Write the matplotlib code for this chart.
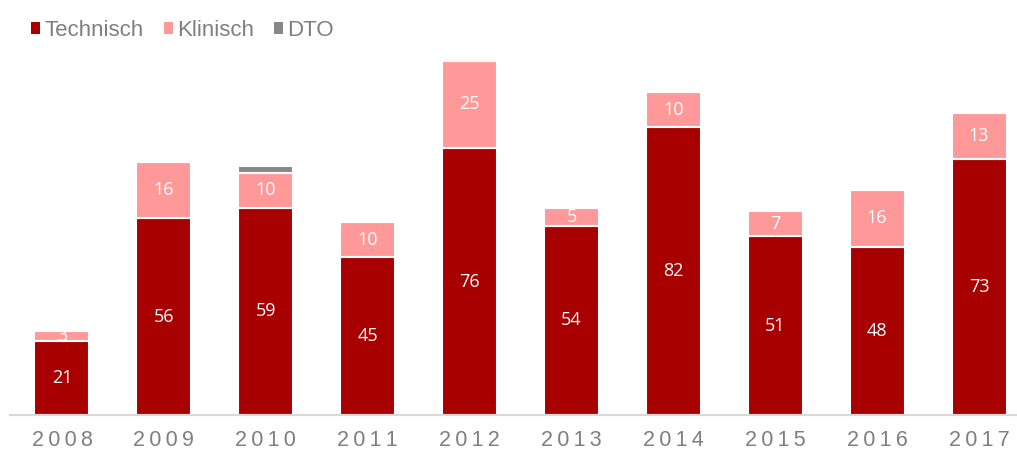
import matplotlib
matplotlib.use('Agg')
import matplotlib.pyplot as plt
import numpy as np

# --- data ---
years = ['2008', '2009', '2010', '2011', '2012', '2013', '2014', '2015', '2016', '2017']
technisch = [21, 56, 59, 45, 76, 54, 82, 51, 48, 73]
klinisch = [3, 16, 10, 10, 25, 5, 10, 7, 16, 13]
dto = [0, 0, 2, 0, 0, 0, 0, 0, 0, 0]

c_tech = '#A80000'
c_klin = '#FF9999'
c_dto = '#878787'

plt.rcParams['font.family'] = ['Liberation Sans', 'DejaVu Sans']

fig = plt.figure(figsize=(10.17, 4.51), dpi=100)
# baseline at y=415 px, top of axes at ~29 px
ax = fig.add_axes([0.0, 36 / 451, 1.0, 386 / 451])

x = np.arange(len(years))
w = 0.54
tech = np.array(technisch)
klin = np.array(klinisch)
dt = np.array(dto)

b1 = ax.bar(x, tech, w, color=c_tech, edgecolor='white', linewidth=1.5, label='Technisch')
b2 = ax.bar(x, klin, w, bottom=tech, color=c_klin, edgecolor='white', linewidth=1.5, label='Klinisch')
b3 = ax.bar(x, dt, w, bottom=tech + klin, color=c_dto, edgecolor='white', linewidth=1.5, label='DTO')

for i in range(len(years)):
    ax.text(x[i], tech[i] / 2, str(tech[i]), ha='center', va='center',
            color='white', fontsize=13, family=['Open Sans', 'DejaVu Sans'])
    ax.text(x[i], tech[i] + klin[i] / 2, str(klin[i]), ha='center', va='center',
            color='white', fontsize=13, family=['Open Sans', 'DejaVu Sans'])

# x=-0.5 sits at 11 px; spacing ~101.9 px per category
x0 = -0.5 - 11 / 101.9
ax.set_xlim(x0, x0 + 1017 / 101.9)
ax.set_ylim(0, 110)

ax.set_xticks(x)
ax.set_xticklabels(['\u2009'.join(y) for y in years], color='#7F7F7F', fontsize=15.5)
ax.tick_params(axis='x', length=0, pad=11)
ax.set_yticks([])
for s in ['top', 'right', 'left']:
    ax.spines[s].set_visible(False)
ax.spines['bottom'].set_color('#D9D9D9')
ax.spines['bottom'].set_linewidth(1.5)
ax.spines['bottom'].set_bounds(x0 + 0.1, x0 + 1017 / 101.9)

leg = fig.legend(handles=[b1, b2, b3], loc='upper left', bbox_to_anchor=(0.011, 1.0),
                 ncol=3, frameon=False, fontsize=16, handlelength=0.4, handleheight=0.4,
                 handletextpad=0.2, columnspacing=0.9)
for t in leg.get_texts():
    t.set_color('#7F7F7F')
for h in leg.legend_handles:
    h.set_edgecolor('none')

fig.savefig('out.png', dpi=100)
